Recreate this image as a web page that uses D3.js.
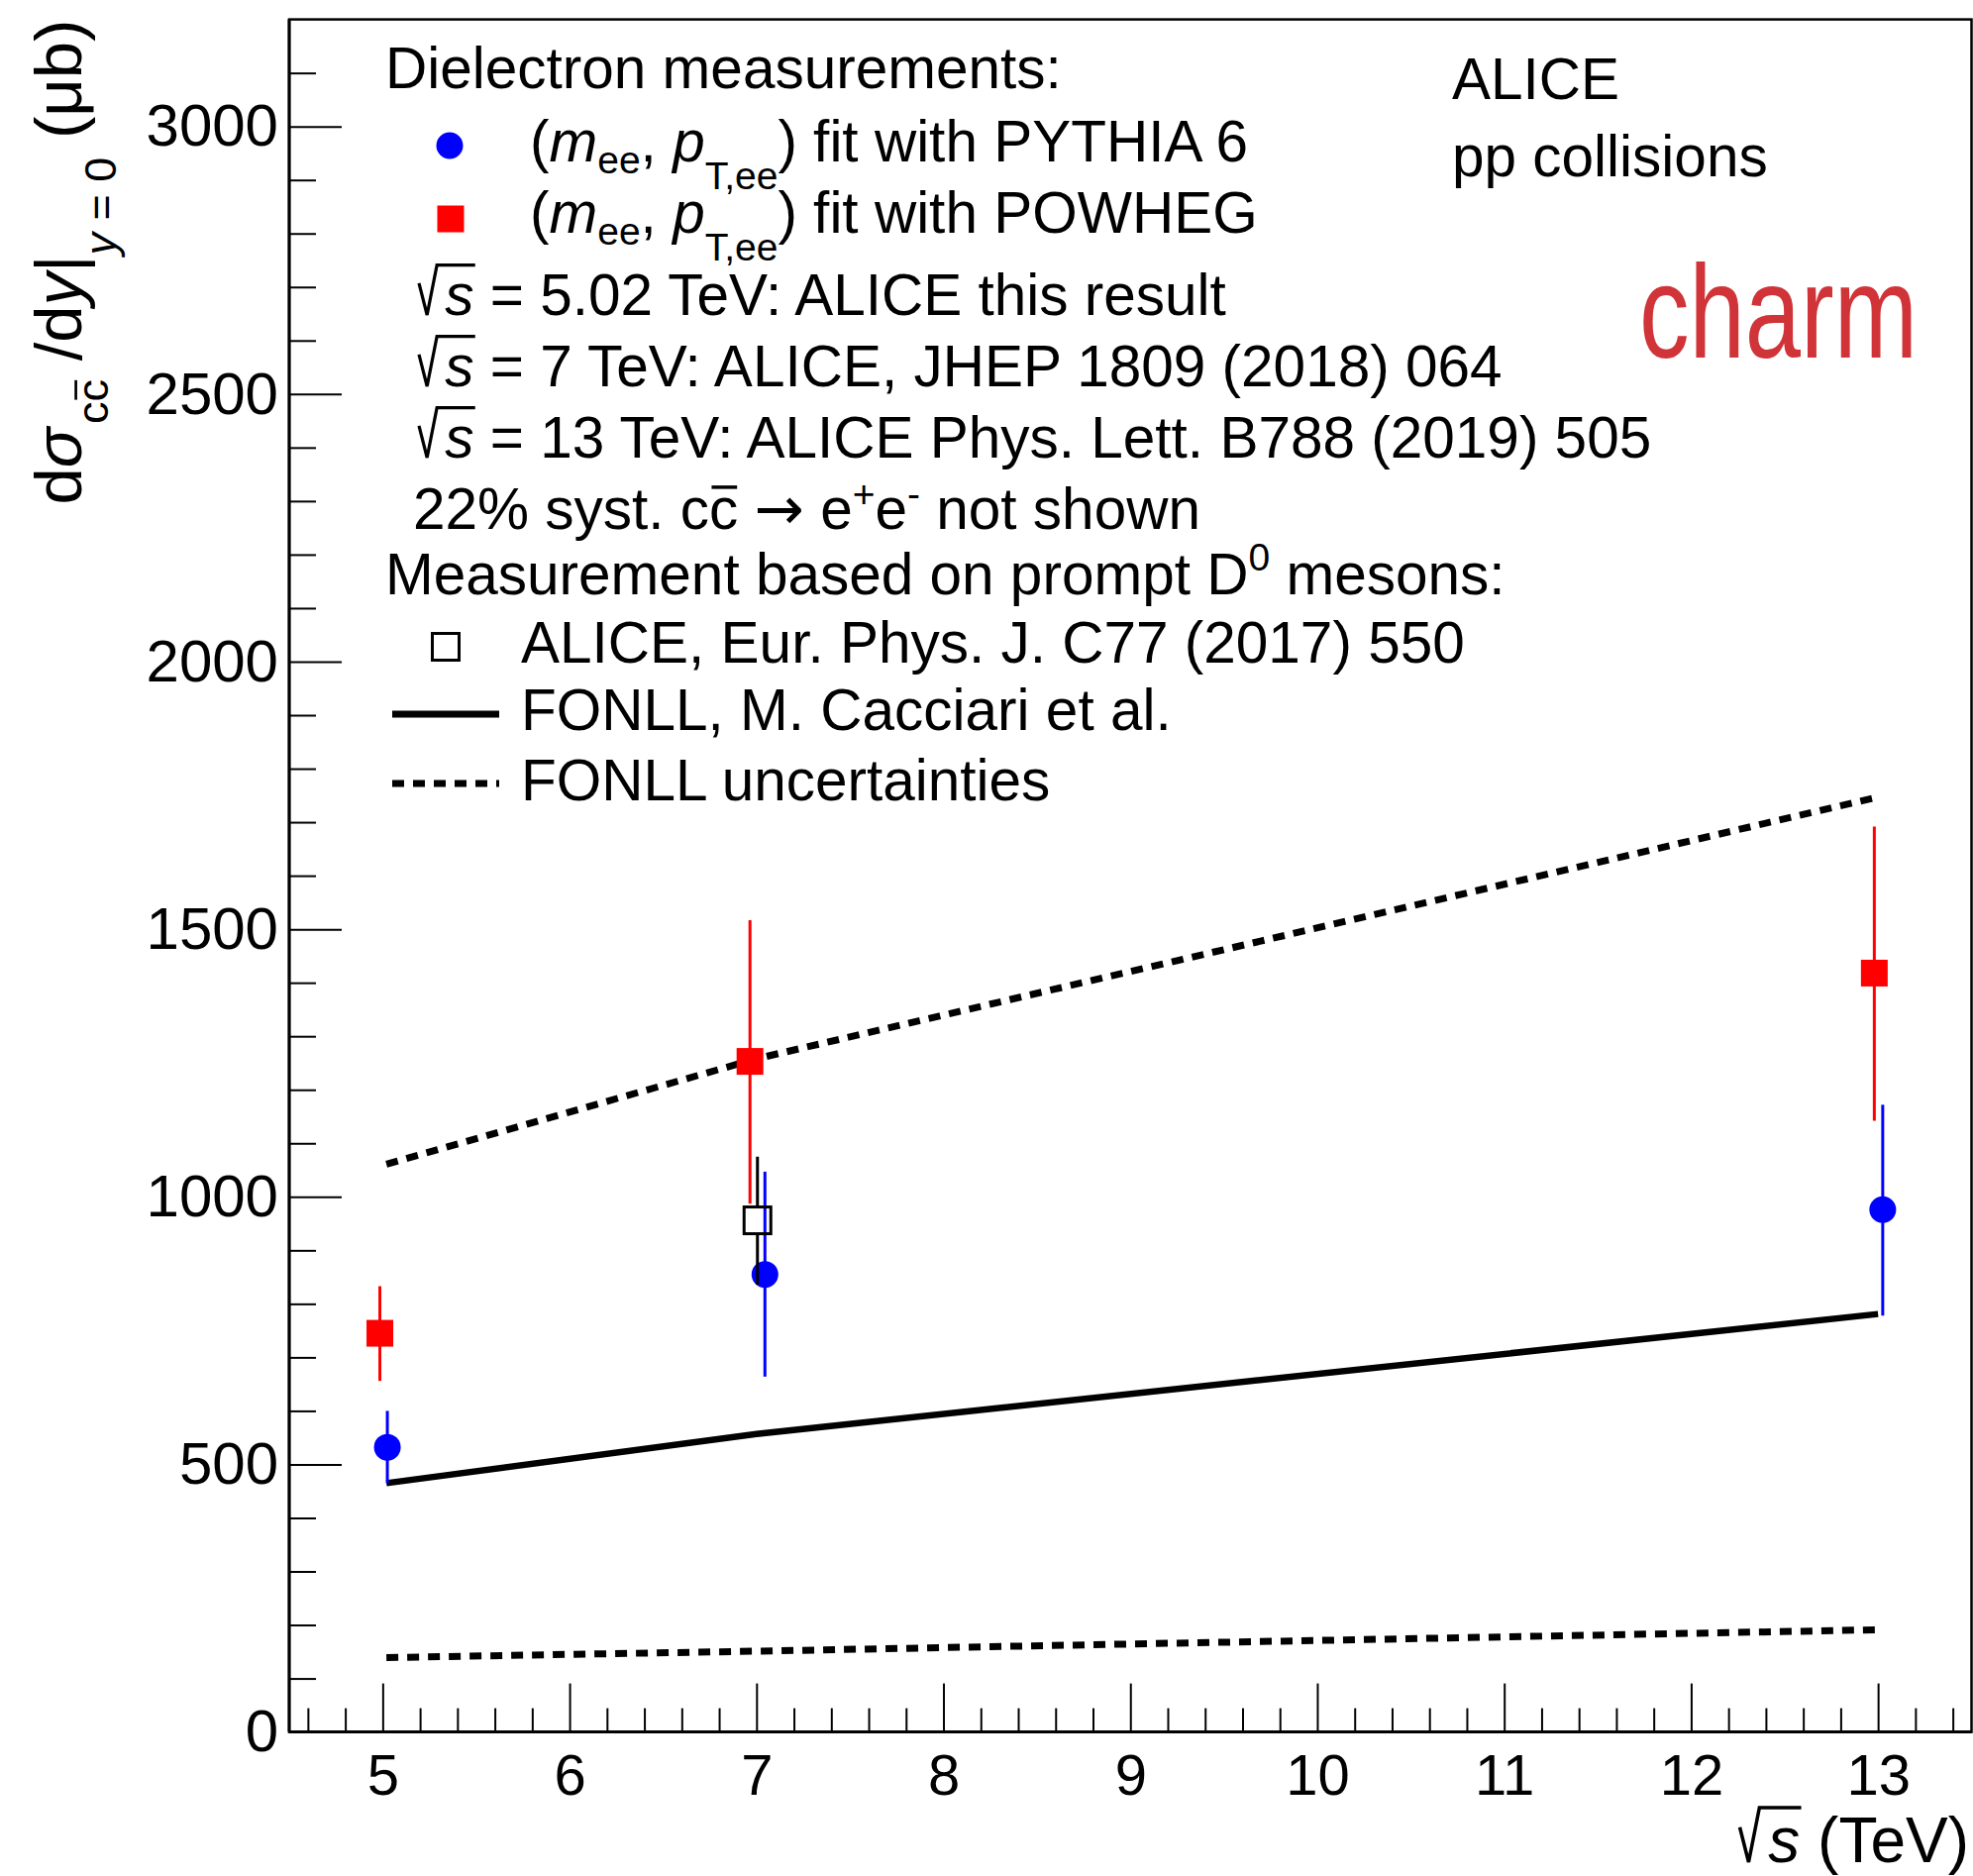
<!DOCTYPE html>
<html>
<head>
<meta charset="utf-8">
<script src="https://cdn.jsdelivr.net/npm/d3@7"></script>
<style>
  html, body { margin: 0; padding: 0; background: #fff; }
  svg { display: block; }
  text { font-family: 'Liberation Sans', Arial, Helvetica, sans-serif; }
</style>
</head>
<body>
<div id="chart"></div>
<script>
// ---------------- data ----------------
const xTickValues = [5, 6, 7, 8, 9, 10, 11, 12, 13];
const yTickValues = [0, 500, 1000, 1500, 2000, 2500, 3000];

// dielectron, PYTHIA 6 fit (blue circles)
const pythiaX = [5.025, 7.045, 13.025];
const pythiaY = [532, 855, 976];
const pythiaErrUp = [68, 192, 196];
const pythiaErrDown = [67, 191, 198];

// dielectron, POWHEG fit (red squares)
const powhegX = [4.985, 6.965, 12.98];
const powhegY = [745, 1253, 1418];
const powhegErrUp = [88, 264, 274];
const powhegErrDown = [89, 266, 276];

// prompt D0 (open square)
const d0X = [7.005];
const d0Y = [956];
const d0ErrUp = [119];
const d0ErrDown = [120];

// FONLL
const fonllX = [5.02, 7, 13];
const fonllCentral = [465, 557, 781];
const fonllUpper = [1061, 1258, 1747];
const fonllLower = [139, 151, 191];

// ---------------- layout ----------------
const W = 1992, H = 1894;
const FONT = "'Liberation Sans', Arial, Helvetica, sans-serif";
const svg = d3.select('#chart').append('svg').attr('width', W).attr('height', H);
svg.append('rect').attr('width', W).attr('height', H).attr('fill', '#fff');

const x = d3.scaleLinear().domain([4.5, 13.5]).range([292, 1990.5]);
const y = d3.scaleLinear().domain([0, 3200]).range([1748.6, 19.6]);

// frame
svg.append('rect')
  .attr('x', x(4.5)).attr('y', y(3200))
  .attr('width', x(13.5) - x(4.5)).attr('height', y(0) - y(3200))
  .attr('fill', 'none').attr('stroke', '#000').attr('stroke-width', 2.5);

const xMinor = d3.range(4.6, 13.45, 0.2).map(v => +v.toFixed(1)).filter(v => Math.abs(v - Math.round(v)) > 1e-6);
const yMinor = d3.range(100, 3200, 100).filter(v => v % 500 !== 0);

// x axis
const gx = svg.append('g').attr('transform', `translate(0,${y(0)})`);
gx.call(d3.axisBottom(x).tickValues(xTickValues).tickSizeInner(-49).tickSizeOuter(0).tickPadding(22).tickFormat(d3.format('d')));
gx.append('g').call(d3.axisBottom(x).tickValues(xMinor).tickSizeInner(-24).tickSizeOuter(0).tickFormat(''));
gx.selectAll('.domain').remove();
gx.selectAll('line').attr('stroke', '#000').attr('stroke-width', 2);
gx.selectAll('text').attr('font-size', 58).attr('font-family', FONT).attr('fill', '#000');

// y axis
const gy = svg.append('g').attr('transform', `translate(${x(4.5)},0)`);
gy.call(d3.axisLeft(y).tickValues(yTickValues).tickSizeInner(-53).tickSizeOuter(0).tickPadding(11).tickFormat(d3.format('d')));
gy.append('g').call(d3.axisLeft(y).tickValues(yMinor).tickSizeInner(-27).tickSizeOuter(0).tickFormat(''));
gy.selectAll('.domain').remove();
gy.selectAll('line').attr('stroke', '#000').attr('stroke-width', 2);
gy.selectAll('text').attr('font-size', 60).attr('font-family', FONT).attr('fill', '#000');

svg.append('line').attr('x1', x(4.5)).attr('x2', x(4.5)).attr('y1', y(0)).attr('y2', y(3200)).attr('stroke', '#000').attr('stroke-width', 3);
svg.append('line').attr('x1', x(4.5)).attr('x2', x(13.5)).attr('y1', y(0)).attr('y2', y(0)).attr('stroke', '#000').attr('stroke-width', 3);

// rich text helper: segments {t, italic, size, shift (down px), over, sqrt, family}
function rich(parent, attrs, segs) {
  const txt = parent.append('text');
  Object.entries(attrs).forEach(([k, v]) => txt.attr(k, v));
  const baseSize = +attrs['font-size'];
  let cur = 0;
  const post = [];
  segs.forEach(s => {
    const ts = txt.append('tspan').text(s.t);
    const sh = s.shift || 0;
    const dy = sh - cur;
    if (dy) ts.attr('dy', dy);
    cur = sh;
    const fs = s.size || baseSize;
    if (s.size) ts.attr('font-size', s.size);
    if (s.italic) ts.attr('font-style', 'italic');
    if (s.family) ts.attr('font-family', s.family);
    if (s.sqrt) ts.attr('dx', 0.45 * fs);
    if (s.dx) ts.attr('dx', s.dx);
    if (s.sqrt || s.over) post.push({node: ts.node(), s, fs});
  });
  post.forEach(({node, s, fs}) => {
    const n = node.getNumberOfChars();
    const p0 = node.getStartPositionOfChar(0);
    const p1 = node.getEndPositionOfChar(n - 1);
    const b = p0.y;
    if (s.sqrt) {
      const x0 = p0.x - 0.45 * fs;
      const pts = [[x0, b - 0.55 * fs], [x0 + 0.14 * fs, b], [x0 + 0.31 * fs, b - 0.86 * fs], [p1.x + 0.02 * fs, b - 0.86 * fs]];
      parent.append('path').attr('d', d3.line()(pts)).attr('fill', 'none').attr('stroke', '#000')
        .attr('stroke-width', fs * 0.055).attr('stroke-linejoin', 'miter');
    } else {
      parent.append('line').attr('x1', p0.x + 0.04 * fs).attr('x2', p1.x - 0.02 * fs)
        .attr('y1', b - 0.72 * fs).attr('y2', b - 0.72 * fs)
        .attr('stroke', '#000').attr('stroke-width', fs * 0.06);
    }
  });
  return txt;
}

// x axis title: build left-aligned, then shift so that it ends at the right edge
const gxt = svg.append('g');
rich(gxt, {x: 0, y: 1880, 'font-size': 64, 'font-family': FONT},
  [{t: 's', italic: true, sqrt: true}, {t: ' (TeV)'}]);
const bbx = gxt.node().getBBox();
gxt.attr('transform', `translate(${1988 - (bbx.x + bbx.width)},0)`);

// y axis title
const gyt = svg.append('g').attr('transform', 'translate(82,19.6) rotate(-90)');
rich(gyt, {x: 0, y: 0, 'text-anchor': 'end', 'font-size': 67, 'font-family': FONT},
  [{t: 'd'}, {t: 'σ', italic: true}, {t: 'c', size: 45, shift: 27, dx: 4}, {t: 'c', size: 45, shift: 27, over: true},
   {t: ' /d', shift: 0}, {t: 'y', italic: true}, {t: '|'}, {t: 'y', size: 45, shift: 35, italic: true}, {t: ' = 0', size: 45, shift: 35},
   {t: ' (μb)', shift: 0}]);

// ---------------- FONLL curves ----------------
const lineGen = (vals) => d3.line().x((d, i) => x(fonllX[i])).y(d => y(d))(vals);
svg.append('path').attr('d', lineGen(fonllUpper)).attr('fill', 'none').attr('stroke', '#000')
  .attr('stroke-width', 7).attr('stroke-dasharray', '12,9');
svg.append('path').attr('d', lineGen(fonllLower)).attr('fill', 'none').attr('stroke', '#000')
  .attr('stroke-width', 7).attr('stroke-dasharray', '12,9');
svg.append('path').attr('d', lineGen(fonllCentral)).attr('fill', 'none').attr('stroke', '#000')
  .attr('stroke-width', 6.5);

// ---------------- data points ----------------
const MS = 27;
powhegX.forEach((xv, i) => {
  svg.append('line').attr('x1', x(xv)).attr('x2', x(xv))
    .attr('y1', y(powhegY[i] + powhegErrUp[i])).attr('y2', y(powhegY[i] - powhegErrDown[i]))
    .attr('stroke', '#ff0000').attr('stroke-width', 3);
  svg.append('rect').attr('x', x(xv) - MS / 2).attr('y', y(powhegY[i]) - MS / 2)
    .attr('width', MS).attr('height', MS).attr('fill', '#ff0000');
});
pythiaX.forEach((xv, i) => {
  svg.append('line').attr('x1', x(xv)).attr('x2', x(xv))
    .attr('y1', y(pythiaY[i] + pythiaErrUp[i])).attr('y2', y(pythiaY[i] - pythiaErrDown[i]))
    .attr('stroke', '#0000ff').attr('stroke-width', 3);
  svg.append('circle').attr('cx', x(xv)).attr('cy', y(pythiaY[i])).attr('r', MS / 2).attr('fill', '#0000ff');
});
d0X.forEach((xv, i) => {
  const cx = x(xv), cy = y(d0Y[i]);
  svg.append('line').attr('x1', cx).attr('x2', cx).attr('y1', y(d0Y[i] + d0ErrUp[i])).attr('y2', cy - MS / 2)
    .attr('stroke', '#000').attr('stroke-width', 3);
  svg.append('line').attr('x1', cx).attr('x2', cx).attr('y1', cy + MS / 2).attr('y2', y(d0Y[i] - d0ErrDown[i]))
    .attr('stroke', '#000').attr('stroke-width', 3);
  svg.append('rect').attr('x', cx - MS / 2).attr('y', cy - MS / 2).attr('width', MS).attr('height', MS)
    .attr('fill', 'none').attr('stroke', '#000').attr('stroke-width', 3);
});

// ---------------- legend ----------------
const FS = 58.5, SUB = 39;
const L = svg.append('g').attr('font-family', FONT).attr('font-size', FS).attr('fill', '#000');
const base = {'font-size': FS, 'font-family': FONT};
L.append('text').attr('x', 389).attr('y', 89).text('Dielectron measurements:');

L.append('circle').attr('cx', 454).attr('cy', 147).attr('r', MS / 2).attr('fill', '#0000ff');
rich(L, {...base, x: 535, y: 163},
  [{t: '('}, {t: 'm', italic: true}, {t: 'ee', size: SUB, shift: 12}, {t: ', ', shift: 0},
   {t: 'p', italic: true}, {t: 'T,ee', size: SUB, shift: 28}, {t: ') fit with PYTHIA 6', shift: 0}]);

L.append('rect').attr('x', 455 - MS / 2).attr('y', 221 - MS / 2).attr('width', MS).attr('height', MS).attr('fill', '#ff0000');
rich(L, {...base, x: 535, y: 235},
  [{t: '('}, {t: 'm', italic: true}, {t: 'ee', size: SUB, shift: 12}, {t: ', ', shift: 0},
   {t: 'p', italic: true}, {t: 'T,ee', size: SUB, shift: 28}, {t: ') fit with POWHEG', shift: 0}]);

const sqrtLines = [
  [318, ' = 5.02 TeV: ALICE this result'],
  [390, ' = 7 TeV: ALICE, JHEP 1809 (2018) 064'],
  [462, ' = 13 TeV: ALICE Phys. Lett. B788 (2019) 505']
];
sqrtLines.forEach(([yy, txt]) => {
  rich(L, {...base, x: 423, y: yy}, [{t: 's', italic: true, sqrt: true}, {t: txt}]);
});

rich(L, {...base, x: 417, y: 534},
  [{t: '22% syst. c'}, {t: 'c', over: true}, {t: ' '}, {t: '→', family: "'DejaVu Sans', sans-serif", size: 60}, {t: ' e'},
   {t: '+', size: SUB, shift: -22}, {t: 'e', shift: 0},
   {t: '-', size: SUB, shift: -22}, {t: ' not shown', shift: 0}]);

rich(L, {...base, x: 389, y: 600},
  [{t: 'Measurement based on prompt D'}, {t: '0', size: SUB, shift: -24}, {t: ' mesons:', shift: 0}]);

L.append('rect').attr('x', 450 - MS / 2).attr('y', 653 - MS / 2).attr('width', MS).attr('height', MS)
  .attr('fill', 'none').attr('stroke', '#000').attr('stroke-width', 3);
L.append('text').attr('x', 526).attr('y', 669).text('ALICE, Eur. Phys. J. C77 (2017) 550');

L.append('line').attr('x1', 396).attr('x2', 504).attr('y1', 721).attr('y2', 721).attr('stroke', '#000').attr('stroke-width', 7);
L.append('text').attr('x', 526).attr('y', 737).text('FONLL, M. Cacciari et al.');

L.append('line').attr('x1', 396).attr('x2', 504).attr('y1', 791).attr('y2', 791).attr('stroke', '#000')
  .attr('stroke-width', 7).attr('stroke-dasharray', '12,9');
L.append('text').attr('x', 526).attr('y', 808).text('FONLL uncertainties');

// ---------------- labels ----------------
L.append('text').attr('x', 1466).attr('y', 100).text('ALICE');
L.append('text').attr('x', 1466).attr('y', 178).text('pp collisions');

svg.append('text').attr('x', 1655).attr('y', 361).attr('font-family', "'Open Sans', sans-serif")
  .attr('font-size', 133).attr('fill', '#d03438')
  .attr('textLength', 281).attr('lengthAdjust', 'spacingAndGlyphs').text('charm');
</script>
</body>
</html>
